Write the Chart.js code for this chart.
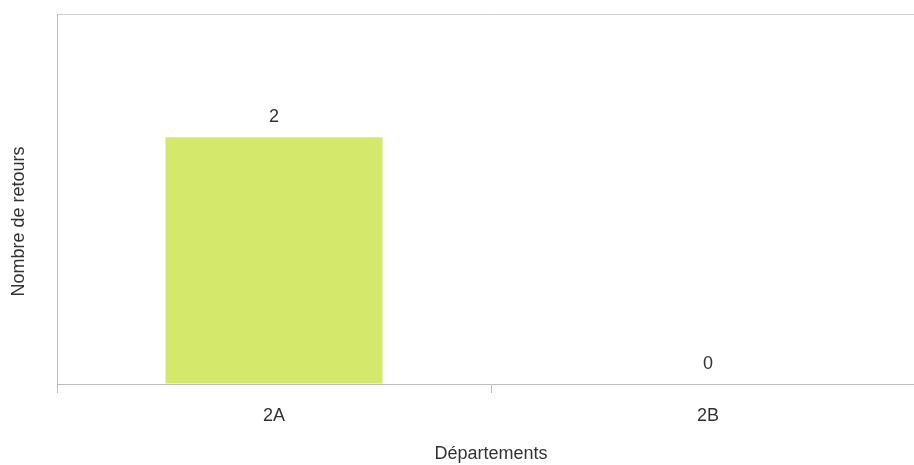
<!DOCTYPE html>
<html>
<head>
<meta charset="utf-8">
<script src="https://cdn.jsdelivr.net/npm/chart.js@4.4.0/dist/chart.umd.min.js"></script>
<style>
  html, body { margin: 0; padding: 0; overflow: hidden; background: #fff; }
</style>
</head>
<body>
<canvas id="chartBar" width="925" height="465"></canvas>
<script>
const departements = ["2A", "2B"];
const retours = [2, 0];
const yTicks = [0, 3];

const txt = "#333333";
const fontMain = { family: "'Liberation Sans', Arial, sans-serif", size: 18 };

// valeurs au-dessus des barres
const valueLabels = {
  id: "valueLabels",
  afterDatasetsDraw(chart) {
    const ctx = chart.ctx;
    ctx.save();
    ctx.font = "18px 'Liberation Sans', Arial, sans-serif";
    ctx.fillStyle = txt;
    ctx.textAlign = "center";
    ctx.textBaseline = "bottom";
    chart.getDatasetMeta(0).data.forEach((bar, i) => {
      ctx.fillText(String(retours[i]), bar.x, bar.y - 11);
    });
    ctx.restore();
  },
};

const configBar = {
  type: "bar",
  data: {
    labels: departements,
    datasets: [
      {
        data: retours,
        backgroundColor: "#d4e86c",
        barPercentage: 0.5,
        categoryPercentage: 1,
      },
    ],
  },
  options: {
    responsive: false,
    animation: false,
    layout: { padding: { top: 14, right: 0, left: 0, bottom: 0 } },
    plugins: {
      legend: { display: false },
      tooltip: { enabled: false },
    },
    scales: {
      x: {
        offset: true,
        grid: {
          offset: true,
          drawOnChartArea: false,
          drawTicks: true,
          tickLength: 9,
          color: "#bdbdbd",
        },
        border: { display: true, color: "#bdbdbd" },
        ticks: { color: txt, font: fontMain, padding: 12 },
        title: {
          display: true,
          text: "Départements",
          color: txt,
          font: fontMain,
          padding: { top: 0, bottom: 0 },
        },
        afterFit(scale) {
          scale.height = 81;
        },
      },
      y: {
        min: 0,
        max: 3,
        afterBuildTicks(scale) {
          scale.ticks = yTicks.map((v) => ({ value: v }));
        },
        ticks: { display: false },
        grid: {
          drawTicks: false,
          color: (c) => (c.tick && c.tick.value === 3 ? "#cccccc" : "rgba(0,0,0,0)"),
        },
        border: { display: true, color: "#bdbdbd" },
        title: {
          display: true,
          // espaces en fin pour descendre un peu le titre
          text: "Nombre de retours         ",
          color: txt,
          font: fontMain,
          padding: { top: 8, bottom: 0 },
        },
        afterFit(scale) {
          scale.width = 57;
        },
      },
    },
  },
  plugins: [valueLabels],
};

var chartBar = new Chart(document.getElementById("chartBar"), configBar);
</script>
</body>
</html>
